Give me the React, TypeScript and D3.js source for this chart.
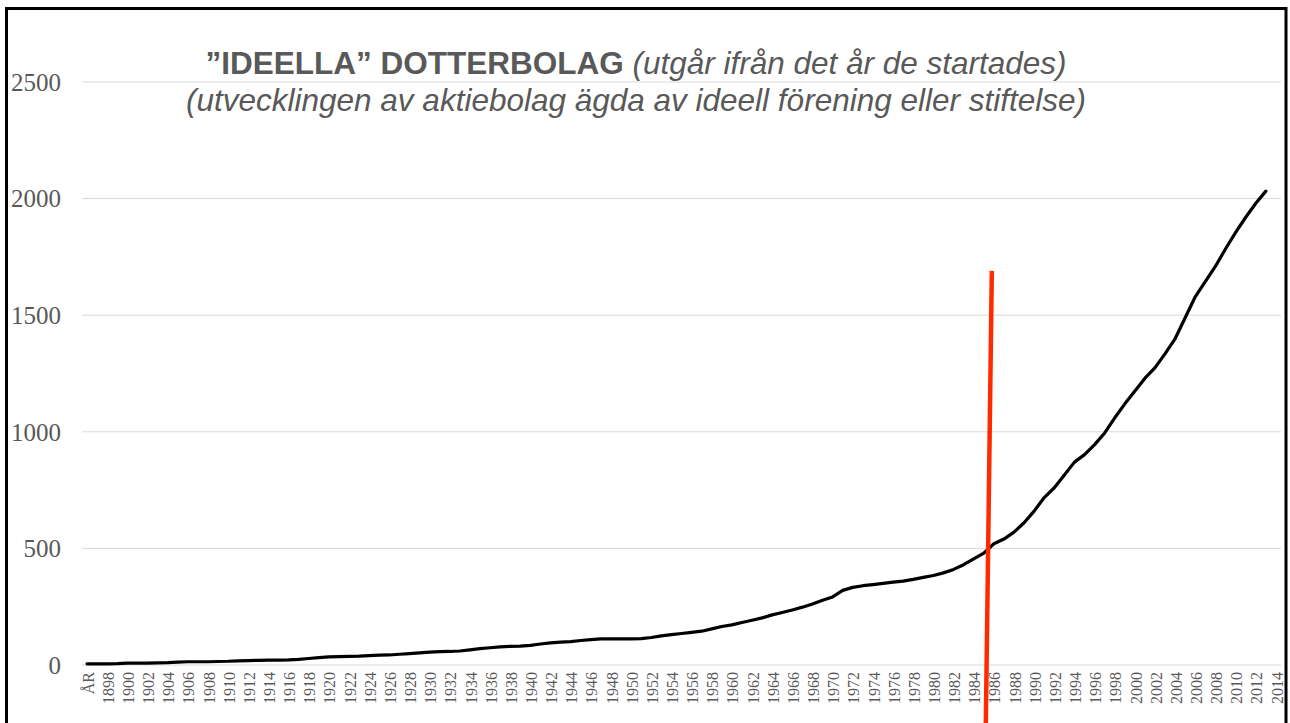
import React from "react";
import * as d3 from "d3";

const years: number[] = d3.range(1896, 2015);
const categories: string[] = years.map((y) => (y === 1896 ? "ÅR" : String(y)));

// values per year from 1896 ("ÅR") to 2013
const counts: number[] = [
  5, 5, 5, 6, 8, 8, 8, 9, 10, 12, // 1896-1905
  14, 14, 14, 15, 16, 18, 19, 20, 21, 21, // 1906-1915
  22, 24, 28, 32, 35, 36, 37, 38, 40, 42, // 1916-1925
  43, 46, 49, 52, 55, 57, 58, 60, 65, 70, // 1926-1935
  74, 78, 80, 81, 84, 90, 95, 98, 100, 105, // 1936-1945
  109, 112, 112, 112, 112, 113, 118, 125, 130, 135, // 1946-1955
  140, 145, 155, 165, 172, 182, 192, 202, 215, 225, // 1956-1965
  236, 248, 262, 278, 292, 320, 333, 340, 345, 350, // 1966-1975
  355, 360, 367, 376, 384, 395, 410, 430, 455, 480, // 1976-1985
  520, 540, 570, 610, 660, 718, 760, 815, 870, 902, // 1986-1995
  945, 995, 1060, 1120, 1175, 1230, 1275, 1335, 1400, 1490, // 1996-2005
  1580, 1645, 1710, 1785, 1855, 1920, 1980, 2032, // 2006-2013
];

const yTicks: number[] = [0, 500, 1000, 1500, 2000, 2500];

const titleBold = "”IDEELLA” DOTTERBOLAG";
const titleItalic = " (utgår ifrån det år de startades)";
const subtitle = "(utvecklingen av aktiebolag ägda av ideell förening eller stiftelse)";

// annotation: red marker line around 1985/86
const markerYears: number[] = [1985.8, 1985.2];
const markerValues: number[] = [1690, -260];

export default function App() {
  const W = 1290;
  const H = 723;
  const x = d3.scaleBand<string>().domain(categories).range([82, 1281]).paddingInner(0).paddingOuter(0);
  const y = d3.scaleLinear().domain([0, 2500]).range([665, 82]);
  const cx = (c: string) => (x(c) as number) + x.bandwidth() / 2;
  const yearX = d3
    .scaleLinear()
    .domain([1896, 2014])
    .range([cx(categories[0]), cx(categories[categories.length - 1])]);

  const line = d3
    .line<number>()
    .x((_, i) => cx(categories[i]))
    .y((d) => y(d))
    .curve(d3.curveLinear);

  const grey = "#595959";

  return (
    <svg
      width={W}
      height={H}
      style={{ position: "absolute", left: 0, top: 0, background: "#fff" }}
    >
      <rect x={0} y={0} width={W} height={H} fill="#fff" />
      {yTicks.map((t) => (
        <g key={t}>
          <line x1={82} x2={1281} y1={y(t)} y2={y(t)} stroke="#d9d9d9" strokeWidth={1} />
          <text
            x={61}
            y={y(t)}
            dy="0.35em"
            textAnchor="end"
            fontFamily="'Liberation Serif', 'Times New Roman', serif"
            fontSize={25}
            fill={grey}
          >
            {t}
          </text>
        </g>
      ))}
      {categories.map((c, i) =>
        i % 2 === 0 ? (
          <text
            key={c}
            transform={`translate(${cx(c) + 1},${672}) rotate(-90)`}
            textAnchor="end"
            dy="0.35em"
            fontFamily="'Liberation Serif', 'Times New Roman', serif"
            fontSize={16}
            fill={grey}
          >
            {c}
          </text>
        ) : null
      )}
      <path
        d={line(counts) || ""}
        fill="none"
        stroke="#000"
        strokeWidth={3.2}
        strokeLinejoin="round"
        strokeLinecap="round"
      />
      <line
        x1={yearX(markerYears[0])}
        y1={y(markerValues[0])}
        x2={yearX(markerYears[1])}
        y2={y(markerValues[1])}
        stroke="#ff2a00"
        strokeWidth={4.5}
      />
      <text
        x={636}
        y={74}
        textAnchor="middle"
        fontFamily="'Liberation Sans', Arial, sans-serif"
        fontSize={31.5}
        fill={grey}
      >
        <tspan fontWeight="bold">{titleBold}</tspan>
        <tspan fontStyle="italic">{titleItalic}</tspan>
      </text>
      <text
        x={636}
        y={111}
        textAnchor="middle"
        fontFamily="'Liberation Sans', Arial, sans-serif"
        fontSize={31.5}
        fontStyle="italic"
        fill={grey}
      >
        {subtitle}
      </text>
      <rect
        x={6.5}
        y={8.5}
        width={1279.5}
        height={H + 20}
        fill="none"
        stroke="#000"
        strokeWidth={3}
      />
    </svg>
  );
}
